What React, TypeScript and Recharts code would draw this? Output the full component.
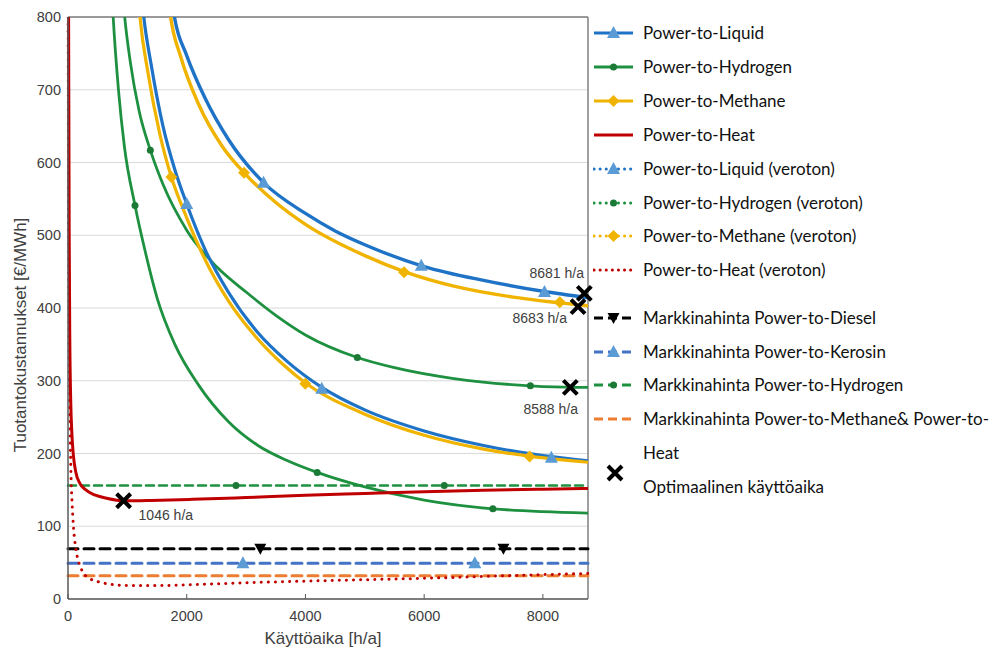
import React from 'react'
import {
  ComposedChart,
  Line,
  Scatter,
  XAxis,
  YAxis,
  CartesianGrid,
  ReferenceLine,
  ReferenceDot,
} from 'recharts'

const HOURS_MAX = 8760
const xTicks = [0, 2000, 4000, 6000, 8000]
const yTicks = [0, 100, 200, 300, 400, 500, 600, 700, 800]

// production cost curves [€/MWh] vs operating hours [h/a]
const ptlCost = [
  { h: 1750, v: 822 }, { h: 1800, v: 797 }, { h: 2000, v: 747 }, { h: 2300, v: 690 },
  { h: 2700, v: 632 }, { h: 3300, v: 572 }, { h: 4000, v: 530 }, { h: 4500, v: 506 },
  { h: 5000, v: 487 }, { h: 6000, v: 457 }, { h: 7000, v: 438 }, { h: 8000, v: 423 },
  { h: 8760, v: 414 },
]
const ptmCost = [
  { h: 1680, v: 832 }, { h: 1729, v: 800 }, { h: 1900, v: 745 }, { h: 2200, v: 680 },
  { h: 2600, v: 622 }, { h: 3000, v: 583 }, { h: 3500, v: 545 }, { h: 4000, v: 515 },
  { h: 5000, v: 472 }, { h: 5700, v: 449 }, { h: 6500, v: 430 }, { h: 7500, v: 415 },
  { h: 8300, v: 407 }, { h: 8760, v: 403 },
]
const h2Cost = [
  { h: 920, v: 832 }, { h: 955, v: 800 }, { h: 1050, v: 738 }, { h: 1200, v: 670 },
  { h: 1387, v: 617 }, { h: 1600, v: 570 }, { h: 2000, v: 507 }, { h: 2500, v: 457 },
  { h: 3000, v: 422 }, { h: 3500, v: 390 }, { h: 4000, v: 363 }, { h: 4874, v: 332 },
  { h: 5500, v: 318 }, { h: 6500, v: 303 }, { h: 7789, v: 293 }, { h: 8500, v: 291 },
  { h: 8760, v: 291 },
]
const heatCost = [
  { h: 3, v: 1000 }, { h: 10, v: 800 }, { h: 20, v: 500 }, { h: 30, v: 360 },
  { h: 45, v: 275 }, { h: 65, v: 228 }, { h: 90, v: 198 }, { h: 130, v: 175 },
  { h: 200, v: 159 }, { h: 300, v: 150 }, { h: 450, v: 143 }, { h: 650, v: 138.5 },
  { h: 950, v: 135 }, { h: 1400, v: 135.5 }, { h: 2100, v: 137 }, { h: 3000, v: 139.5 },
  { h: 4000, v: 142.5 }, { h: 5000, v: 145 }, { h: 6000, v: 147.5 }, { h: 7000, v: 149.5 },
  { h: 8000, v: 151 }, { h: 8760, v: 152 },
]
const ptlVerCost = [
  { h: 1240, v: 830 }, { h: 1277, v: 800 }, { h: 1400, v: 735 }, { h: 1600, v: 650 },
  { h: 1800, v: 590 }, { h: 2000, v: 543 }, { h: 2300, v: 482 }, { h: 2700, v: 422 },
  { h: 3200, v: 366 }, { h: 3700, v: 326 }, { h: 4275, v: 291 }, { h: 5000, v: 260 },
  { h: 6000, v: 231 }, { h: 7000, v: 211 }, { h: 8000, v: 197 }, { h: 8760, v: 190 },
]
const ptmVerCost = [
  { h: 1180, v: 832 }, { h: 1213, v: 800 }, { h: 1350, v: 722 }, { h: 1550, v: 638 },
  { h: 1741, v: 580 }, { h: 2000, v: 524 }, { h: 2300, v: 468 }, { h: 2700, v: 410 },
  { h: 3200, v: 357 }, { h: 3600, v: 324 }, { h: 4000, v: 297 }, { h: 5000, v: 254 },
  { h: 6000, v: 225 }, { h: 7000, v: 206 }, { h: 7800, v: 196 }, { h: 8760, v: 188 },
]
const h2VerCost = [
  { h: 740, v: 832 }, { h: 761, v: 800 }, { h: 850, v: 700 }, { h: 950, v: 622 },
  { h: 1129, v: 541 }, { h: 1300, v: 478 }, { h: 1504, v: 413 }, { h: 1800, v: 350 },
  { h: 2200, v: 294 }, { h: 2700, v: 244 }, { h: 3200, v: 211 }, { h: 3700, v: 190 },
  { h: 4198, v: 174 }, { h: 5000, v: 154 }, { h: 6000, v: 136 }, { h: 7157, v: 124 },
  { h: 8000, v: 120 }, { h: 8760, v: 118 },
]
const heatVerCost = [
  { h: 2, v: 800 }, { h: 10, v: 520 }, { h: 20, v: 350 }, { h: 35, v: 235 },
  { h: 50, v: 172 }, { h: 70, v: 130 }, { h: 95, v: 96 }, { h: 130, v: 70 },
  { h: 180, v: 51 }, { h: 250, v: 37 }, { h: 350, v: 29 }, { h: 500, v: 24 },
  { h: 700, v: 20.5 }, { h: 1000, v: 18.5 }, { h: 1500, v: 18.5 }, { h: 2500, v: 21 },
  { h: 3500, v: 23.5 }, { h: 5000, v: 26.5 }, { h: 6000, v: 28.5 }, { h: 7000, v: 31 },
  { h: 8000, v: 33.5 }, { h: 8760, v: 35 },
]

// market prices [€/MWh]
const dieselPrice = [{ h: 0, v: 69 }, { h: HOURS_MAX, v: 69 }]
const kerosinPrice = [{ h: 0, v: 49 }, { h: HOURS_MAX, v: 49 }]
const h2Price = [{ h: 0, v: 156 }, { h: HOURS_MAX, v: 156 }]
const methaneHeatPrice = [{ h: 0, v: 32 }, { h: HOURS_MAX, v: 32 }]

// markers sitting on the curves
const ptlMarks = [{ h: 3295, v: 572 }, { h: 5951, v: 458 }, { h: 8027, v: 422 }]
const ptlVerMarks = [{ h: 2000, v: 543 }, { h: 4275, v: 289 }, { h: 8143, v: 194 }]
const ptmMarks = [{ h: 2966, v: 586 }, { h: 5661, v: 449 }, { h: 8285, v: 408 }]
const ptmVerMarks = [{ h: 1741, v: 580 }, { h: 3998, v: 296 }, { h: 7776, v: 196 }]
const h2Marks = [{ h: 1387, v: 617 }, { h: 4874, v: 332 }, { h: 7789, v: 293 }]
const h2VerMarks = [{ h: 1129, v: 541 }, { h: 4198, v: 174 }, { h: 7157, v: 124 }]
const dieselMarks = [{ h: 3240, v: 69 }, { h: 7335, v: 69 }]
const kerosinMarks = [{ h: 2947, v: 49 }, { h: 6853, v: 49 }]
const h2PriceMarks = [{ h: 2830, v: 156 }, { h: 6338, v: 156 }]

// optimal operating time
const optimumMarks = [{ h: 8698, v: 420 }, { h: 8592, v: 402 }, { h: 8462, v: 291 }, { h: 937, v: 135 }]
const optimumLabels = [
  { h: 8234, v: 448, text: '8681 h/a' },
  { h: 7948, v: 386, text: '8683 h/a' },
  { h: 8133, v: 261, text: '8588 h/a' },
  { h: 1648, v: 115, text: '1046 h/a' },
]

const BLUE = '#1F73C6'
const BLUE_MARK = '#5B9BD5'
const YELLOW = '#F0B400'
const GREEN = '#1E9140'
const GREEN_MARK = '#1B7A36'
const RED = '#C00000'
const KERO = '#4472C4'
const ORANGE = '#ED7D31'
const AXIS_TEXT = '#404040'
const AXIS_FONT = 'Liberation Sans, Arial, sans-serif'

const markPath = (kind, cx, cy) => {
  if (kind === 'triangle') return `M${cx},${cy - 7}L${cx + 6.5},${cy + 5}L${cx - 6.5},${cy + 5}Z`
  if (kind === 'down') return `M${cx - 6},${cy - 5}L${cx + 6},${cy - 5}L${cx},${cy + 6}Z`
  if (kind === 'diamond') return `M${cx},${cy - 6}L${cx + 6},${cy}L${cx},${cy + 6}L${cx - 6},${cy}Z`
  return ''
}

const Marker = ({ kind, color, cx, cy }) => {
  if (cx == null || cy == null) return <g />
  if (kind === 'dot') return <circle cx={cx} cy={cy} r={3.5} fill={color} />
  if (kind === 'cross')
    return (
      <path
        d={`M${cx - 7},${cy - 7}L${cx + 7},${cy + 7}M${cx + 7},${cy - 7}L${cx - 7},${cy + 7}`}
        stroke="#000"
        strokeWidth={4}
      />
    )
  return <path d={markPath(kind, cx, cy)} fill={color} />
}

const shape = (kind, color) => (props) => <Marker kind={kind} color={color} cx={props.cx} cy={props.cy} />

const legendItems = [
  { name: 'Power-to-Liquid', color: BLUE, dash: 'solid', mark: 'triangle', markColor: BLUE_MARK },
  { name: 'Power-to-Hydrogen', color: GREEN, dash: 'solid', mark: 'dot', markColor: GREEN_MARK },
  { name: 'Power-to-Methane', color: YELLOW, dash: 'solid', mark: 'diamond', markColor: YELLOW },
  { name: 'Power-to-Heat', color: RED, dash: 'solid', mark: null },
  { name: 'Power-to-Liquid (veroton)', color: BLUE, dash: 'dot', mark: 'triangle', markColor: BLUE_MARK },
  { name: 'Power-to-Hydrogen (veroton)', color: GREEN, dash: 'dot', mark: 'dot', markColor: GREEN_MARK },
  { name: 'Power-to-Methane (veroton)', color: YELLOW, dash: 'dot', mark: 'diamond', markColor: YELLOW },
  { name: 'Power-to-Heat (veroton)', color: RED, dash: 'dot', mark: null },
  { name: 'Markkinahinta Power-to-Diesel', color: '#000', dash: 'dash', mark: 'down', markColor: '#000' },
  { name: 'Markkinahinta Power-to-Kerosin', color: KERO, dash: 'dash', mark: 'triangle', markColor: BLUE_MARK },
  { name: 'Markkinahinta Power-to-Hydrogen', color: GREEN, dash: 'dash', mark: 'dot', markColor: GREEN_MARK },
  { name: 'Markkinahinta Power-to-Methane& Power-to-\nHeat', color: ORANGE, dash: 'dash', mark: null },
]

const dashOf = (d) => (d === 'dot' ? '0.1 6' : d === 'dash' ? '9 5' : undefined)

const LegendIcon = ({ item }) => (
  <svg width={42} height={34} style={{ flex: 'none' }}>
    <line
      x1={1}
      x2={40}
      y1={17}
      y2={17}
      stroke={item.color}
      strokeWidth={3}
      strokeDasharray={dashOf(item.dash)}
      strokeLinecap={item.dash === 'dot' ? 'round' : 'butt'}
    />
    {item.mark && <Marker kind={item.mark} color={item.markColor} cx={20.5} cy={17} />}
  </svg>
)

const ChartLegend = () => (
  <div style={{ position: 'absolute', left: 0, top: 0, fontFamily: 'Lato, sans-serif', fontSize: 17, color: '#111' }}>
    {legendItems.map((item, i) => {
      const cy = (i < 8 ? 33 + i * 33.9 : 318 + (i - 8) * 33.7) - 8
      return (
        <div key={item.name} style={{ position: 'absolute', left: 585, top: cy - 17, display: 'flex' }}>
          <LegendIcon item={item} />
          <div style={{ marginLeft: 8, lineHeight: '34px', whiteSpace: 'pre' }}>{item.name}</div>
        </div>
      )
    })}
    <svg width={20} height={20} style={{ position: 'absolute', left: 597, top: 455 }}>
      <Marker kind="cross" cx={10} cy={10} />
    </svg>
    <div style={{ position: 'absolute', left: 635, top: 462, lineHeight: '34px', whiteSpace: 'pre' }}>
      Optimaalinen käyttöaika
    </div>
  </div>
)

const curve = (key, data, color, width, dash) => (
  <Line
    key={key}
    data={data}
    dataKey="v"
    type="monotone"
    stroke={color}
    strokeWidth={width}
    strokeDasharray={dash}
    strokeLinecap={dash ? 'round' : 'butt'}
    dot={false}
    activeDot={false}
    isAnimationActive={false}
  />
)

const marks = (key, data, kind, color) => (
  <Scatter key={key} data={data} dataKey="v" shape={shape(kind, color)} isAnimationActive={false} />
)

const tickStyle = { fontFamily: AXIS_FONT, fontSize: 14.5, fill: AXIS_TEXT }

export default function App() {
  return (
    <div style={{ position: 'relative', width: 983, height: 640 }}>
      <ComposedChart width={983} height={640} margin={{ top: 9, right: 403, left: 0, bottom: 0 }}>
        <CartesianGrid vertical={false} stroke="#d9d9d9" strokeWidth={1.2} />
        <XAxis
          type="number"
          dataKey="h"
          domain={[0, HOURS_MAX]}
          ticks={xTicks}
          height={49}
          tick={tickStyle}
          tickSize={-5}
          tickMargin={17}
          tickLine={{ stroke: '#595959' }}
          axisLine={{ stroke: '#595959', strokeWidth: 1.5 }}
        />
        <YAxis
          type="number"
          dataKey="v"
          domain={[0, 800]}
          ticks={yTicks}
          allowDataOverflow
          width={60}
          tick={tickStyle}
          tickLine={false}
          tickSize={0}
          tickMargin={7}
          axisLine={{ stroke: '#595959', strokeWidth: 1.5 }}
        />
        <ReferenceLine y={800} stroke="#7f7f7f" strokeWidth={1.5} />
        <ReferenceLine x={HOURS_MAX} stroke="#7f7f7f" strokeWidth={1.5} />

        {curve('diesel', dieselPrice, '#000', 3, '10 6')}
        {curve('kerosin', kerosinPrice, KERO, 3, '10 6')}
        {curve('h2price', h2Price, GREEN, 2.5, '8 5')}
        {curve('methprice', methaneHeatPrice, ORANGE, 3, '10 6')}

        {curve('h2ver', h2VerCost, GREEN, 2.8)}
        {curve('h2', h2Cost, GREEN, 2.8)}
        {curve('ptlver', ptlVerCost, BLUE, 3.2)}
        {curve('ptmver', ptmVerCost, YELLOW, 3.2)}
        {curve('ptl', ptlCost, BLUE, 3.4)}
        {curve('ptm', ptmCost, YELLOW, 3.4)}
        {curve('heatver', heatVerCost, RED, 3, '0.1 7')}
        {curve('heat', heatCost, RED, 3)}

        {marks('ptlm', ptlMarks, 'triangle', BLUE_MARK)}
        {marks('ptlvm', ptlVerMarks, 'triangle', BLUE_MARK)}
        {marks('ptmm', ptmMarks, 'diamond', YELLOW)}
        {marks('ptmvm', ptmVerMarks, 'diamond', YELLOW)}
        {marks('h2m', h2Marks, 'dot', GREEN_MARK)}
        {marks('h2vm', h2VerMarks, 'dot', GREEN_MARK)}
        {marks('dieselm', dieselMarks, 'down', '#000')}
        {marks('kerom', kerosinMarks, 'triangle', BLUE_MARK)}
        {marks('h2pm', h2PriceMarks, 'dot', GREEN_MARK)}
        {marks('opt', optimumMarks, 'cross', '#000')}

        {optimumLabels.map((l) => (
          <ReferenceDot
            key={l.text}
            x={l.h}
            y={l.v}
            r={0}
            stroke="none"
            fill="none"
            ifOverflow="visible"
            label={{ value: l.text, position: 'center', fontSize: 14, fill: AXIS_TEXT, fontFamily: AXIS_FONT }}
          />
        ))}

        <text x={315} y={636} textAnchor="middle" fontFamily={AXIS_FONT} fontSize={17} fill={AXIS_TEXT}>
          Käyttöaika [h/a]
        </text>
        <text
          x={18}
          y={327}
          transform="rotate(-90 18 327)"
          textAnchor="middle"
          fontFamily={AXIS_FONT}
          fontSize={17}
          fill={AXIS_TEXT}
        >
          Tuotantokustannukset [€/MWh]
        </text>
      </ComposedChart>
      <ChartLegend />
    </div>
  )
}
